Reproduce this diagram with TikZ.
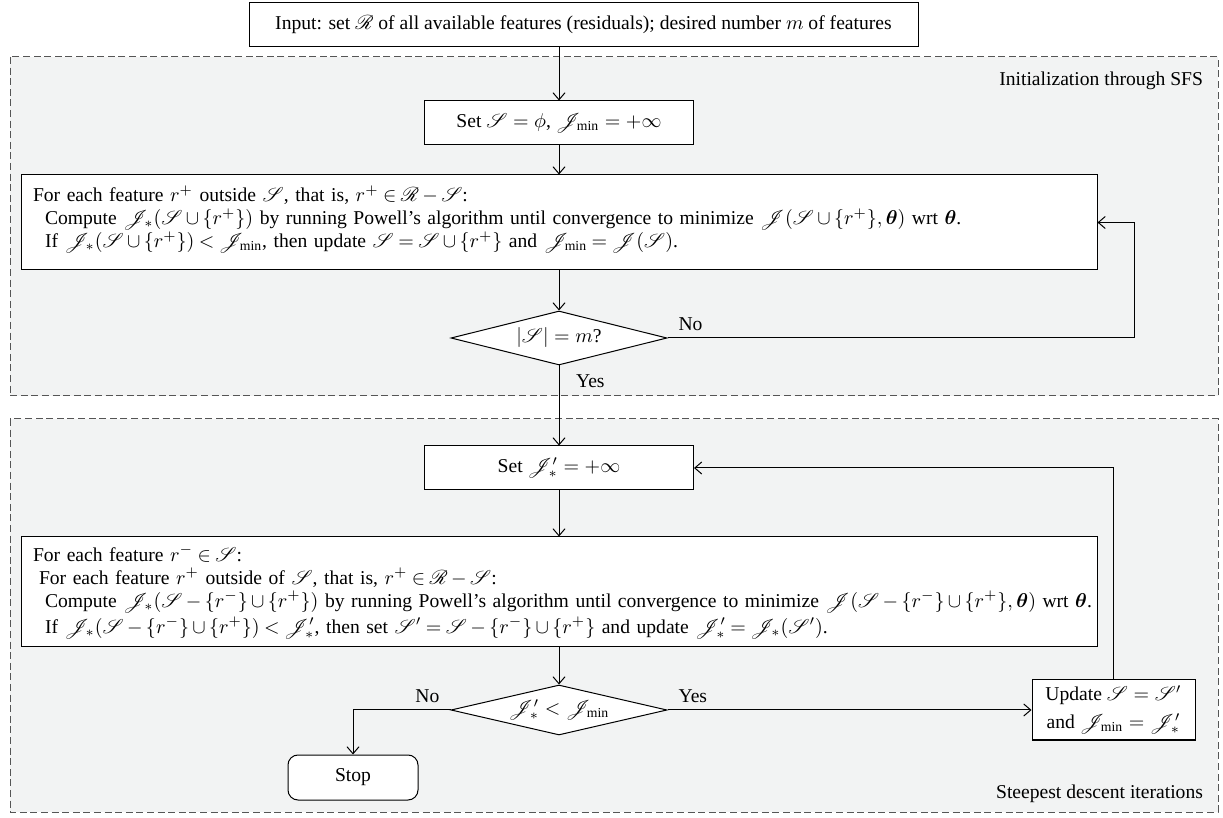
\documentclass[tikz,border=0pt]{standalone}
\usepackage{amsmath,amssymb}
\usepackage{bm}
\usepackage{mathrsfs}
\usepackage{fontspec}
\setmainfont{Liberation Serif}
\usetikzlibrary{arrows.meta,positioning,shapes.geometric}
\newcommand{\Sset}{\mathscr{S}}
\newcommand{\Jfun}{\mathscr{J}}
\newcommand{\Rset}{\mathscr{R}}

\begin{document}
\begin{tikzpicture}[
    x=0.5pt, y=-0.5pt,
    every node/.style={font=\fontsize{9.8}{11.5}\selectfont},
    procbox/.style={draw=black, line width=0.5pt, fill=white, inner sep=0pt,
      minimum height=22pt},
    textbox/.style={draw=black, line width=0.5pt, fill=white, inner xsep=6pt,
      inner ysep=4pt, text width=526pt, align=left,
      execute at begin node={\medmuskip=3mu plus 1mu\thickmuskip=4mu plus 2mu}},
    testbox/.style={draw=black, line width=0.5pt, fill=white, shape=diamond,
      aspect=4, inner sep=0pt, minimum width=108pt, minimum height=27pt},
    endbox/.style={draw=black, line width=0.5pt, fill=white, rounded corners=5pt,
      minimum width=65pt, minimum height=22.5pt},
    regionbox/.style={draw=regionedge, line width=0.5pt, fill=regionfill,
      dash pattern=on 3.5pt off 1.8pt},
    flow/.style={line width=0.5pt, -{Straight Barb[length=3.5pt, width=6pt]}},
  ]
    \definecolor{regionfill}{HTML}{F2F3F3}
    \definecolor{regionedge}{HTML}{555555}
    \useasboundingbox (0,0) rectangle (1223,818);

    % ---- regions ----
    \draw[regionbox] (10,57) rectangle (1218,396);
    \draw[regionbox] (10,419) rectangle (1218,812);
    \node[anchor=north east] (sfslabel) at (1210,65) {Initialization through SFS};
    \node[anchor=south east] (desclabel) at (1210,810) {Steepest descent iterations};

    % ---- input ----
    \node[procbox, minimum width=334.5pt] (input) at (583.5,25)
      {Input: set $\Rset$ of all available features (residuals); desired number $m$ of features};

    % ---- initialization through SFS ----
    \node[procbox, minimum width=134.5pt] (init) at (559,123)
      {Set $\Sset=\phi$, $\Jfun_{\min}=+\infty$};
    \node[textbox, minimum height=47.5pt] (loopone) at (559,222.5)
      {For each feature $r^{+}$ outside $\Sset$, that is, $r^{+}\in\Rset-\Sset$:\\
       \hspace*{6pt}Compute $\Jfun_{*}(\Sset\cup\{r^{+}\})$ by running Powell's algorithm until convergence to minimize $\Jfun(\Sset\cup\{r^{+}\},\bm{\theta})$ wrt $\bm{\theta}$.\\
       \hspace*{6pt}If $\Jfun_{*}(\Sset\cup\{r^{+}\})<\Jfun_{\min}$, then update $\Sset=\Sset\cup\{r^{+}\}$ and $\Jfun_{\min}=\Jfun(\Sset)$.\\[-6pt]\mbox{}};
    \node[testbox] (sizetest) at (559,338) {$|\Sset|=m$?};
    \node[anchor=south west] (noone) at ([xshift=2pt]sizetest.east) {No};
    \node[anchor=north west] (yesone) at ([xshift=5pt,yshift=-1pt]sizetest.south) {Yes};
    \coordinate (backone) at (1134,0);

    \draw[flow] (init.north |- input.south) -- (init.north);
    \draw[flow] (init) -- (loopone);
    \draw[flow] (loopone) -- (sizetest);
    \draw[flow] (sizetest.east) -- (sizetest.east -| backone) |- (loopone.east);

    % ---- steepest descent iterations ----
    \node[procbox, minimum width=134.5pt] (setj) at (559,468)
      {Set $\Jfun'_{*}=+\infty$};
    \node[textbox, minimum height=55pt] (looptwo) at (559,592)
      {For each feature $r^{-}\in\Sset$:\\
       \hspace*{3pt}For each feature $r^{+}$ outside of $\Sset$, that is, $r^{+}\in\Rset-\Sset$:\\
       \hspace*{6pt}\mbox{Compute $\Jfun_{*}(\Sset-\{r^{-}\}\cup\{r^{+}\})$ by running Powell's algorithm until convergence to minimize $\Jfun(\Sset-\{r^{-}\}\cup\{r^{+}\},\bm{\theta})$ wrt $\bm{\theta}$.}\\[1.5pt]
       \hspace*{6pt}If $\Jfun_{*}(\Sset-\{r^{-}\}\cup\{r^{+}\})<\Jfun'_{*}$, then set $\Sset'=\Sset-\{r^{-}\}\cup\{r^{+}\}$ and update $\Jfun'_{*}=\Jfun_{*}(\Sset')$.};
    \node[testbox, minimum height=25pt] (costtest) at (559,710) {$\Jfun'_{*}<\Jfun_{\min}$};
    \node[anchor=south east] (notwo) at ([xshift=-2pt]costtest.west) {No};
    \node[anchor=south west] (yestwo) at ([xshift=2pt]costtest.east) {Yes};
    \node[procbox, minimum width=81.5pt, minimum height=30pt, align=center] (update) at (1113.5,710)
      {Update $\Sset=\Sset'$\\[2.5pt] and $\Jfun_{\min}=\Jfun'_{*}$};
    \node[endbox] (stop) at (353,777.5) {Stop};

    \draw[flow] (costtest.north |- sizetest.south) -- (setj.north);
    \draw[flow] (setj) -- (looptwo);
    \draw[flow] (looptwo) -- (costtest);
    \draw[flow] (costtest.west) -| (stop.north);
    \draw[flow] (costtest.east) -- (update.west);
    \draw[flow] (update.north) |- (setj.east);
\end{tikzpicture}
\end{document}
